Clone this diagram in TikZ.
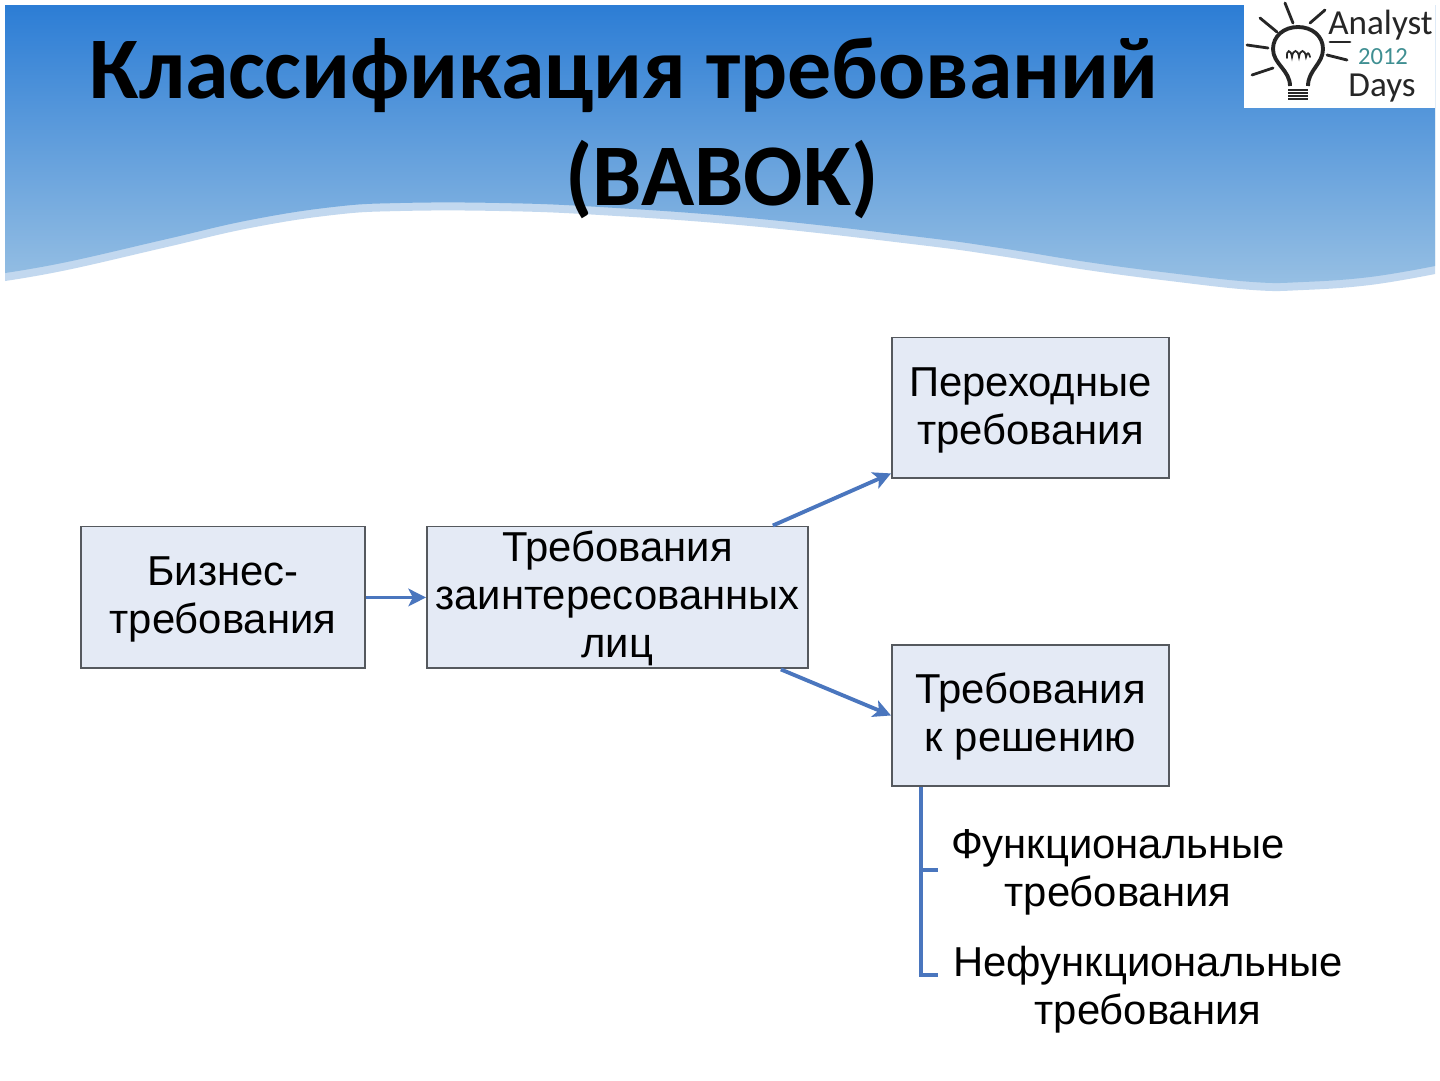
\documentclass[tikz,border=0pt]{standalone}
\usepackage{fontspec}
\setmainfont{Liberation Sans}
\newfontfamily\titlefont{Carlito}
\usetikzlibrary{arrows.meta}
\definecolor{boxedge}{HTML}{55595E}
\definecolor{boxfill}{HTML}{E4EAF5}
\definecolor{linkblue}{HTML}{4A76BE}
\definecolor{toptone}{HTML}{2C7DD5}
\definecolor{lowtone}{HTML}{96BFE3}
\definecolor{bandtone}{HTML}{C2D8EF}
\definecolor{tealtone}{HTML}{3F8F92}
\newcommand{\dnstrut}{\rule{0pt}{18.8pt}}
\tikzset{
  reqbox/.style={draw=boxedge,fill=boxfill,line width=1.1pt,inner sep=0pt,anchor=north west,align=center,text=black,font=\fontsize{23.8pt}{27.4pt}\selectfont},
  plain/.style={inner sep=0pt,align=center,text=black,font=\fontsize{23.8pt}{27.4pt}\selectfont},
  link/.style={draw=linkblue,line width=2.2pt,-{Stealth[length=10pt,width=10pt,inset=2.5pt]}},
  tree/.style={draw=linkblue,line width=2.3pt},
  ttl/.style={inner sep=0pt,text=black,font=\titlefont\bfseries\fontsize{50pt}{54pt}\selectfont},
  ray/.style={draw=black!85,line width=1.6pt,line cap=round},
  logotext/.style={inner sep=0pt,text=black!85,font=\titlefont\fontsize{20pt}{20pt}\selectfont}
}
\begin{document}
\begin{tikzpicture}[x=0.02cm,y=-0.02cm]
\useasboundingbox (0,0) rectangle (1440,1080);
\fill[white] (0,0) rectangle (1440,1080);
% banner band and wave
\fill[bandtone] (5,5) -- (1435,5) -- plot[smooth,tension=.7] coordinates {(1435,274) (1370,285) (1303,290) (1253,290) (1170,281) (1087,270) (1000,256) (920,245) (750,226) (600,215) (500,211) (400,211) (333,215) (250,228) (167,247) (67,270) (5,281)} -- cycle;
\shade[top color=toptone,bottom color=lowtone]
  (5,5) -- (1435,5) -- plot[smooth,tension=.7] coordinates {(1435,266) (1370,277) (1303,282) (1253,282) (1170,273) (1087,262) (1000,248) (920,237) (750,218) (600,207) (500,203) (400,203) (333,207) (250,220) (167,239) (67,262) (5,273)} -- cycle;
% title
\node[ttl] (t1) at (624,75) {Классификация требований};
\node[ttl] (t2) at (722,180) {(BABOK)};
% logo
\fill[white] (1244,3) rectangle (1435,108);
\draw[black!85,line width=2.2pt]
  (1290,86) .. controls (1290,70) and (1273,64) .. (1273,49)
  .. controls (1273,36) and (1284,27) .. (1298,27)
  .. controls (1312,27) and (1323,36) .. (1323,49)
  .. controls (1323,64) and (1308,70) .. (1308,86);
\draw[black!85,line width=1pt] (1288,90) -- (1308,90) (1288,93) -- (1308,93) (1288,96) -- (1308,96) (1288,99) -- (1308,99);
\draw[black!85,line width=1pt,line cap=round] (1287,58) .. controls (1286,49) and (1291,49) .. (1292,57) .. controls (1293,49) and (1298,49) .. (1299,57) .. controls (1300,49) and (1305,49) .. (1306,57) .. controls (1307,52) and (1309,52) .. (1310,57);
\draw[ray] (1285,3) -- (1293,23);
\draw[ray] (1260,18) -- (1277,32);
\draw[ray] (1325,10) -- (1310,23);
\draw[ray] (1247,45) -- (1268,48);
\draw[ray] (1252,75) -- (1273,68);
\draw[ray] (1327,55) -- (1347,60);
\draw[ray] (1330,42) -- (1350,42);
\node[logotext,anchor=west] (l1) at (1328,25) {Analyst};
\node[logotext,text=tealtone,font=\titlefont\fontsize{14pt}{15pt}\selectfont] (l2) at (1383,57) {2012};
\node[logotext] (l3) at (1382,88) {Days};
% boxes
\node[reqbox,minimum width=5.68cm,minimum height=2.84cm] (biz) at (80,525.5) {\dnstrut Бизнес-\\требования};
\node[reqbox,minimum width=7.62cm,minimum height=2.84cm] (stake) at (426,525.5) {\dnstrut Требования\\заинтересованных\\лиц};
\node[reqbox,minimum width=5.54cm,minimum height=2.82cm] (trans) at (891,336.5) {\dnstrut Переходные\\требования};
\node[reqbox,minimum width=5.54cm,minimum height=2.82cm] (sol) at (891,644) {\dnstrut Требования\\к решению};
\node[plain] (func) at (1118,872) {Функциональные\\требования};
\node[plain] (nonfunc) at (1148,990) {Нефункциональные\\требования};
% connectors
\coordinate (su) at ([xshift=-36*0.02cm]stake.north east);
\coordinate (tu) at ([yshift=6*0.02cm]trans.south west);
\coordinate (sd) at ([xshift=-28*0.02cm]stake.south east);
\draw[link] (biz.east) -- (stake.west);
\draw[link] (su) -- (tu);
\draw[link] (sd) -- (sol.west);
\coordinate (tr) at ([xshift=30*0.02cm]sol.south west);
\coordinate (fb) at (tr |- 0,870);
\coordinate (fe) at (938,870);
\coordinate (nb) at (tr |- 0,975);
\coordinate (ne) at (938,975);
\draw[tree,line join=miter] (tr) -- (nb) -- (ne);
\draw[tree] (fb) -- (fe);
\end{tikzpicture}
\end{document}
